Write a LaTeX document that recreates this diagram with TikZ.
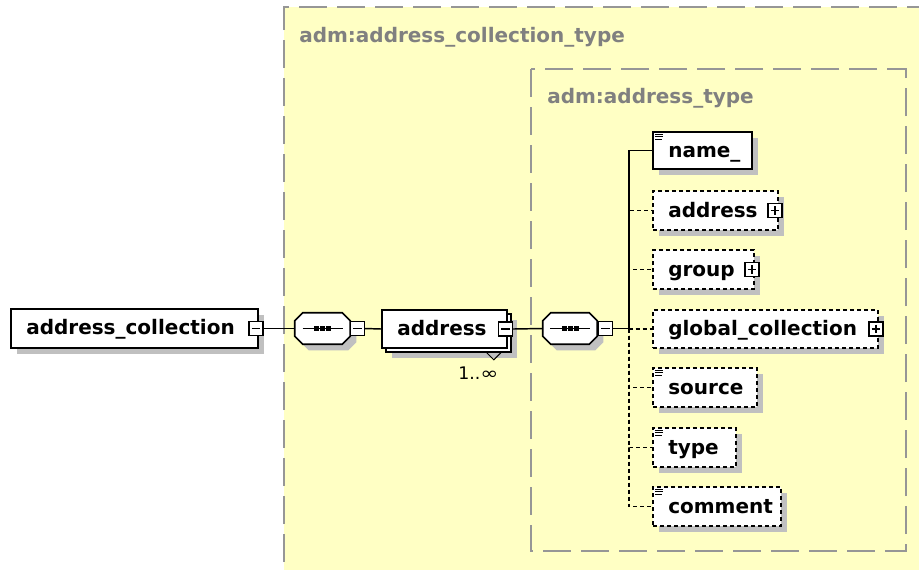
\documentclass[tikz,border=0pt]{standalone}
\usepackage{fontspec}
\setmainfont{DejaVu Sans}
\usetikzlibrary{shadows}

\definecolor{bgyellow}{RGB}{255,255,196}
\definecolor{framegray}{RGB}{150,150,150}
\definecolor{titlegray}{RGB}{128,128,128}
\definecolor{shadowgray}{RGB}{192,192,192}

\begin{document}
\begin{tikzpicture}[x=0.75pt, y=-0.75pt,
  shd/.style={general shadow={fill=shadowgray, shadow xshift=4.5pt, shadow yshift=-4.5pt}},
  elem/.style={draw=black, fill=white, line width=1.2pt, inner sep=0pt, shd},
  optelem/.style={elem, dash pattern=on 3pt off 2.25pt},
  frame/.style={draw=framegray, line width=1.2pt, dash pattern=on 21pt off 7.5pt},
  lbl/.style={font=\bfseries\fontsize{15pt}{18pt}\selectfont, inner sep=0pt, anchor=base west},
  ttl/.style={lbl, text=titlegray},
  seqbox/.style={inner sep=0pt, minimum width=55*0.75pt, minimum height=31*0.75pt},
  tog/.style={draw=black, fill=white, line width=0.9pt, minimum size=14*0.75pt, inner sep=0pt},
  minus/.style={tog, path picture={\draw[line width=0.9pt]
      ([xshift=2pt]path picture bounding box.west) -- ([xshift=-2pt]path picture bounding box.east);}},
  plus/.style={tog, path picture={\draw[line width=0.9pt]
      ([xshift=2pt]path picture bounding box.west) -- ([xshift=-2pt]path picture bounding box.east)
      ([yshift=-2pt]path picture bounding box.north) -- ([yshift=2pt]path picture bounding box.south);}},
  link/.style={draw=black, line width=1.1pt},
  optlink/.style={link, dash pattern=on 3pt off 2.25pt},
  octa/.style={draw=black, fill=white, line width=1.2pt, shd}]

\useasboundingbox (0,0) rectangle (919,569);
\clip (0,0) rectangle (919,569);

% complex type areas
\fill[bgyellow] (284,7) rectangle (940,590);
\draw[frame] (284,600) -- (284,7) -- (940,7);
\draw[frame] (531,69) rectangle (906,551);
\node[ttl] (tOuter) at (299,42) {adm:address\_collection\_type};
\node[ttl] (tInner) at (547,103) {adm:address\_type};

% root element
\node[elem, minimum width=247*0.75pt, minimum height=39*0.75pt] (ac) at (134.5,328.5) {};
\node[lbl] (acText) at (26,334.5) {address\_collection};
\node[minus] (togAC) at (256,328.5) {};

% first sequence compositor
\node[seqbox] (seqA) at (322.5,328.5) {};
\draw[octa] ([xshift=6pt]seqA.north west) -- ([xshift=-6pt]seqA.north east)
  -- ([yshift=-6pt]seqA.north east) -- ([yshift=6pt]seqA.south east)
  -- ([xshift=-6pt]seqA.south east) -- ([xshift=6pt]seqA.south west)
  -- ([yshift=6pt]seqA.south west) -- ([yshift=-6pt]seqA.north west) -- cycle;
\draw[line width=0.9pt] ([xshift=-15pt]seqA.center) -- ([xshift=15pt]seqA.center);
\foreach \dx in {-6,0,6}
  \fill ([shift={(\dx-2.5,-2.5)}]seqA.center) rectangle ([shift={(\dx+2.5,2.5)}]seqA.center);
\node[minus] (togA) at (357.5,328.5) {};

% repeated element "address"
\node[elem, minimum width=125*0.75pt, minimum height=38*0.75pt] (addrBack) at (448.5,333) {};
\node[draw=black, fill=white, line width=1.2pt, inner sep=0pt,
      minimum width=125*0.75pt, minimum height=38*0.75pt] (addr) at (444.5,329) {};
\node[lbl] (addrText) at (397,335) {address};
\node[minus] (togAddr) at (505.5,329) {};
\draw[line width=0.75pt] ([shift={(-25,0)}]addrBack.south east) -- ([shift={(-18,7)}]addrBack.south east)
  -- ([shift={(-11,0)}]addrBack.south east);
\node[inner sep=0pt, anchor=base west, font=\fontsize{13pt}{15pt}\selectfont] (occ) at (458,379)
  {1..\scalebox{1.25}[1]{∞}};

% second sequence compositor
\node[seqbox, minimum width=54*0.75pt] (seqB) at (570,328.5) {};
\draw[octa] ([xshift=6pt]seqB.north west) -- ([xshift=-6pt]seqB.north east)
  -- ([yshift=-6pt]seqB.north east) -- ([yshift=6pt]seqB.south east)
  -- ([xshift=-6pt]seqB.south east) -- ([xshift=6pt]seqB.south west)
  -- ([yshift=6pt]seqB.south west) -- ([yshift=-6pt]seqB.north west) -- cycle;
\draw[line width=0.9pt] ([xshift=-15pt]seqB.center) -- ([xshift=15pt]seqB.center);
\foreach \dx in {-6,0,6}
  \fill ([shift={(\dx-2.5,-2.5)}]seqB.center) rectangle ([shift={(\dx+2.5,2.5)}]seqB.center);
\node[minus] (togB) at (605.5,328.5) {};

% children of the sequence
\node[elem, minimum width=99*0.75pt, minimum height=37*0.75pt] (name) at (702.5,150.5) {};
\node[lbl] (nameText) at (668,157) {name\_};

\node[optelem, minimum width=125*0.75pt, minimum height=39*0.75pt] (address) at (715.5,210.5) {};
\node[lbl] (addressText) at (668,217) {address};
\node[plus] (togAddress) at (775,210.5) {};

\node[optelem, minimum width=101*0.75pt, minimum height=39*0.75pt] (group) at (703.5,269.5) {};
\node[lbl] (groupText) at (668,276) {group};
\node[plus] (togGroup) at (752,269.5) {};

\node[optelem, minimum width=225*0.75pt, minimum height=38*0.75pt] (global) at (765.5,329) {};
\node[lbl] (globalText) at (668,335.5) {global\_collection};
\node[plus] (togGlobal) at (876,329) {};

\node[optelem, minimum width=104*0.75pt, minimum height=39*0.75pt] (source) at (705,387.5) {};
\node[lbl] (sourceText) at (668,394) {source};

\node[optelem, minimum width=83*0.75pt, minimum height=39*0.75pt] (type) at (694.5,447.5) {};
\node[lbl] (typeText) at (668,454) {type};

\node[optelem, minimum width=128*0.75pt, minimum height=39*0.75pt] (comment) at (717,506.5) {};
\node[lbl] (commentText) at (668,513) {comment};

% simple-content marks
\foreach \n in {name, source, type, comment}
  \draw[line width=0.75pt]
    ([shift={(3,3)}]\n.north west) -- ([shift={(11,3)}]\n.north west)
    ([shift={(3,5.5)}]\n.north west) -- ([shift={(11,5.5)}]\n.north west)
    ([shift={(3,8)}]\n.north west) -- ([shift={(10,8)}]\n.north west);

% connectors
\coordinate (trunk) at (629,328.5);
\draw[link] (togAC.east) -- (seqA.west);
\draw[link] (togA.east) -- (addr.west);
\draw[link] (togAddr.east) -- (seqB.west);
\draw[link] (togB.east) -- (trunk);
\foreach \n in {address, group, global, source, type, comment}
  \draw[optlink] (trunk) |- (\n.west);
\draw[link] (trunk) |- (name.west);

\end{tikzpicture}
\end{document}
